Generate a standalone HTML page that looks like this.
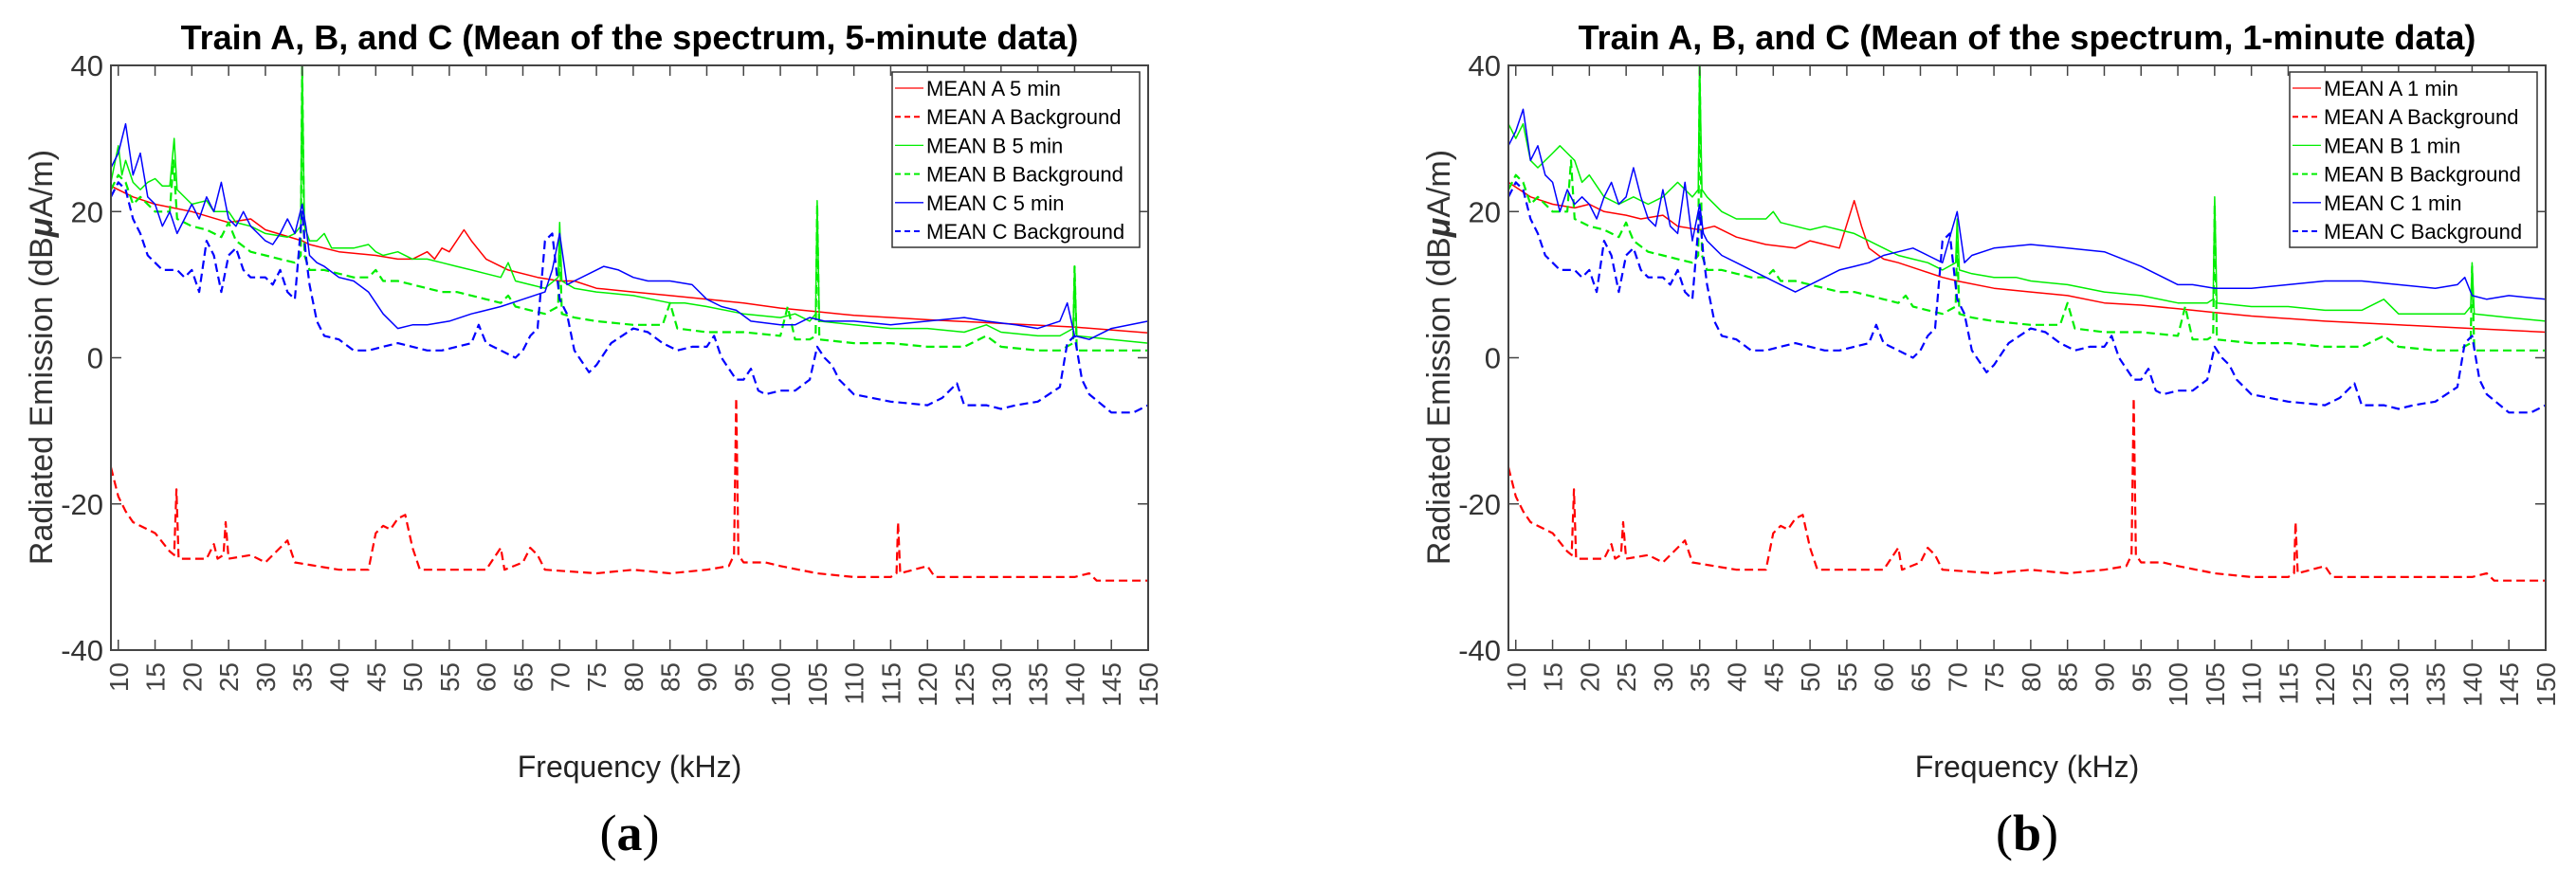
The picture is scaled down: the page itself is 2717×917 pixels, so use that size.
<!DOCTYPE html>
<html><head><meta charset="utf-8">
<style>
html,body{margin:0;padding:0;background:#fff;}
svg{display:block;font-family:"Liberation Sans",sans-serif;}
</style></head>
<body>
<svg id="chart" width="2717" height="917" viewBox="0 0 2717 917" xmlns="http://www.w3.org/2000/svg"></svg>
<script>
// ---- shared data ----
const xTicks = [10,15,20,25,30,35,40,45,50,55,60,65,70,75,80,85,90,95,100,105,110,115,120,125,130,135,140,145,150];
const yTicks = [40,20,0,-20,-40];

const aBgF = [9,10,11,12,13,15,17,17.6,17.9,18.2,20,22,23,23.5,24.3,24.6,25,28,30,33,34,40,44,45,46,47,48,49,50,51,60,62,62.5,65,66,67,68,75,80,85,90,93,93.7,94,94.3,95,98,100,105,110,115,115.8,116,116.3,120,121,130,140,142,143,150];
const aBgV = [-15,-19,-21,-22.5,-23,-24,-26.5,-27,-18,-27.5,-27.5,-27.5,-25.5,-27.5,-27,-22.5,-27.5,-27,-28,-25,-28,-29,-29,-24,-23,-23.5,-22,-21.5,-26,-29,-29,-26,-29,-28,-26,-27,-29,-29.5,-29,-29.5,-29,-28.5,-27,-5.5,-27,-28,-28,-28.5,-29.5,-30,-30,-29.5,-22.5,-29.5,-28.5,-30,-30,-30,-29.5,-30.5,-30.5];

const bBgF = [9,10,11,12,13,15,17,17.5,18,20,22,24,25,26,28,30,32,34,34.8,35,35.3,36,38,40,42,44,45,46,48,50,52,54,56,58,60,62,63,64,66,68,69.8,70,70.3,72,75,80,84,85,86,90,95,100,101,102,104,104.8,105,105.3,110,115,120,125,128,130,135,138,139.8,140,140.3,145,150];
const bBgV = [23,25,24,21,22,20,20,27,19,18,17.5,16.5,18.5,16,14.5,14,13.5,13,14,40,14,12,12,11.5,11,11,12,10.5,10.5,10,9.5,9,9,8.5,8,7.5,8.5,7,6.5,6,7,16,6,5.5,5,4.5,4.5,7.5,4,3.5,3.5,3,7,2.5,2.5,3,21,2.5,2,2,1.5,1.5,3,1.5,1,1,2,12.5,1,1,1];

const cBgF = [9,10,11,12,13,14,15,16,18,19,20,21,22,23,24,25,26,27,28,30,31,32,33,34,35,35.5,36,37,38,40,42,44,46,48,50,52,54,56,58,59,60,62,64,65,66,67,68,69,70,71,72,74,75,77,80,82,84,86,88,90,91,92,94,95,96,97,98,100,102,104,105,106,107,108,110,115,120,122,124,125,128,130,132,135,138,139,140,141,142,145,148,150];
const cBgV = [22,24,23,19,17,14,13,12,12,11,12,9,16,14,9,14,15,12,11,11,10,12,9,8,20,14,10,5,3,2.5,1,1,1.5,2,1.5,1,1,1.5,2,4.5,2,1,0,1,3,4,16,17,8,6,1,-2,-1,2,4,3.5,2,1,1.5,1.5,3,0,-3,-3,-1.5,-4.5,-5,-4.5,-4.5,-3,1.5,0,-1,-3,-5,-6,-6.5,-5.5,-3.5,-6.5,-6.5,-7,-6.5,-6,-4,2,3,-3,-5,-7.5,-7.5,-6.5];

// ---- panel (a): 5-minute ----
const a5F = [9,12,15,20,25,28,30,35,36,40,45,48,50,52,53,54,55,57,58,60,63,67,70,72,75,80,85,90,95,100,105,110,120,130,140,150];
const a5V = [23.5,22,21,20,18.5,19,17.5,16,15.5,14.5,14,13.5,13.5,14.5,13.5,15,14.5,17.5,16,13.5,12,11,10.5,10.5,9.5,9,8.5,8,7.5,6.8,6.3,5.8,5.2,4.7,4.2,3.4];
const b5F = [9,10,10.5,11,12,13,14,15,16,17,17.6,18,20,22,23,25,26,28,30,33,34,34.8,35,35.3,36,37,38,39,40,42,44,45,46,48,50,52,54,56,58,60,62,63,64,66,68,69.8,70,70.3,72,75,80,85,87,90,95,100,102,104,104.8,105,105.3,110,115,120,125,128,130,135,138,139.8,140,140.3,145,150];
const b5V = [24,29,25,27,24,23,24,24.5,23.5,23.5,30,23,21,21.5,20,20,18.5,18,17,16.5,17,18,40,18,16,16,17,15,15,15,15.5,14.5,14,14.5,13.5,13.5,13,12.5,12,11.5,11,13,10.5,10,9.5,11,18.5,10.5,9.5,9,8.5,7.5,7.5,7,6,5.5,6,5,6,21.5,5,4.5,4,4,3.5,4.5,3.5,3,3,4,12.5,3,2.5,2];
const c5F = [9,10,11,12,13,14,15,16,17,18,19,20,21,22,23,24,25,26,27,28,29,30,31,32,33,34,35,35.5,36,37,38,40,42,44,46,48,50,52,55,58,60,62,65,68,69,70,71,72,74,76,78,80,82,85,88,90,92,94,96,100,102,104,106,110,115,120,125,128,132,135,138,139,140,142,145,150];
const c5V = [26,28,32,25,28,22,21,18,20,17,19,21,19,22,20,24,19,18,20,18,17,16,15.5,17,19,17,21,18,14,13,12.5,11,10.5,9,6,4,4.5,4.5,5,6,6.5,7,8,9,12,17,10,10.5,11.5,12.5,12,11,10.5,10.5,10,8,7,6.5,5,4.5,4.5,5.5,5,5,4.5,5,5.5,5,4.5,4,5,7.5,3,2.5,4,5];

// ---- panel (b): 1-minute ----
const a1F = [9,12,15,18,20,22,25,27,30,32,35,37,40,42,44,48,50,52,54,56,57,58,60,62,65,68,70,75,80,85,90,95,100,105,110,120,130,140,150];
const a1V = [24,22,21,20.5,21,20,19.5,19,19.5,18,17.5,18,16.5,16,15.5,15,16,15.5,15,21.5,18,15,13.5,13,12,11,10.5,9.5,9,8.5,7.5,7.2,6.7,6.2,5.7,5,4.5,4,3.5];
const b1F = [9,10,11,12,13,15,16,17,18,19,20,22,24,26,28,30,32,34,34.8,35,35.3,36,38,40,42,44,45,46,48,50,52,54,56,58,60,62,64,66,68,69.8,70,70.3,72,75,78,80,85,90,95,100,104,104.8,105,105.3,110,115,120,125,128,130,135,139,139.8,140,140.3,145,150];
const b1V = [32,30,32,27,26,28,29,28,27,24,25,22,21,22,21,22,24,22,23,40,23,22,20,19,19,19,20,18.5,18,17.5,18,17.5,17,16,15,14,13.5,13,12,13,19,12,11.5,11,11,10.5,10,9,8.5,7.5,7.5,8,22,7.5,7,7,6.5,6.5,8,6,6,6,7,13,6,5.5,5];
const c1F = [9,10,11,12,13,14,15,16,17,18,19,20,21,22,23,24,25,26,27,28,29,30,31,32,33,34,35,35.5,36,37,38,40,42,44,46,48,50,52,54,56,58,60,62,64,66,68,70,71,72,75,80,85,90,95,100,102,105,110,115,120,125,130,135,138,139,140,142,145,150];
const c1V = [29,31,34,27,29,25,24,20,23,21,22,21,19,22,24,21,22,26,22,19,18,23,18,17,24,16,21,17,16,15,14,13,12,11,10,9,10,11,12,12.5,13,14,14.5,15,14,13,20,13,14,15,15.5,15,14.5,12.5,10,10,9.5,9.5,10,10.5,10.5,10,9.5,10,11,8.5,8,8.5,8];

const panels = [
  {ox:0, title:"Train A, B, and C (Mean of the spectrum, 5-minute data)", tag:"(a)", lab:"5 min",
   series:[[a5F,a5V],[aBgF,aBgV],[b5F,b5V],[bBgF,bBgV],[c5F,c5V],[cBgF,cBgV]]},
  {ox:1474, title:"Train A, B, and C (Mean of the spectrum, 1-minute data)", tag:"(b)", lab:"1 min",
   series:[[a1F,a1V],[aBgF,aBgV],[b1F,b1V],[bBgF,bBgV],[c1F,c1V],[cBgF,cBgV]]}
];
const styles = [
  {c:"#ff0000",d:false,n:"A"},{c:"#ff0000",d:true,n:"A"},
  {c:"#00ee00",d:false,n:"B"},{c:"#00ee00",d:true,n:"B"},
  {c:"#0000ff",d:false,n:"C"},{c:"#0000ff",d:true,n:"C"}
];

const NS = "http://www.w3.org/2000/svg";
const svg = document.getElementById("chart");
function mk(tag, attrs, parent){
  const e = document.createElementNS(NS, tag);
  for (const k in attrs) e.setAttribute(k, attrs[k]);
  (parent||svg).appendChild(e);
  return e;
}
const L=117, R=1211, T=69, B=686, XMIN=9, XMAX=150, YMIN=-40, YMAX=40;

panels.forEach((p, pi) => {
  const g = mk("g", {});
  
  
  const sx = f => p.ox + L + (f - XMIN) * (R - L) / (XMAX - XMIN);
  const sy = v => T + (YMAX - v) * (B - T) / (YMAX - YMIN);

  p.series.forEach((s, si) => {
    const st = styles[si];
    let d = "";
    s[0].forEach((f, i) => { d += (i ? "L" : "M") + sx(f).toFixed(1) + "," + sy(s[1][i]).toFixed(1); });
    const path = mk("path", {d:d, fill:"none", stroke:st.c, "stroke-width":st.d?2.2:1.5, "stroke-dasharray":st.d?"9,5":"none", "stroke-linejoin":"round"}, g);
    
    
  });

  const frame = mk("rect", {x:p.ox+L, y:T, width:R-L, height:B-T, fill:"none", stroke:"#444", "stroke-width":2}, g);
  
  

  xTicks.forEach(t => {
    const x = sx(t);
    mk("line", {x1:x, x2:x, y1:B, y2:B-11, stroke:"#444", "stroke-width":1.5}, g);
    mk("line", {x1:x, x2:x, y1:T, y2:T+11, stroke:"#444", "stroke-width":1.5}, g);
    const tx = mk("text", {x:0, y:0, transform:"translate(" + (x+10) + "," + (B+13) + ") rotate(-90)", "text-anchor":"end", "font-size":28, fill:"#444"}, g);
    tx.textContent = t;
    
    
  });
  yTicks.forEach(t => {
    const y = sy(t);
    mk("line", {x1:p.ox+L, x2:p.ox+L+11, y1:y, y2:y, stroke:"#444", "stroke-width":1.5}, g);
    mk("line", {x1:p.ox+R, x2:p.ox+R-11, y1:y, y2:y, stroke:"#444", "stroke-width":1.5}, g);
    const ty = mk("text", {x:p.ox+L-8, y:y+11, "text-anchor":"end", "font-size":31, fill:"#333"}, g);
    ty.textContent = t;
    
    
  });

  const tt = mk("text", {x:p.ox+664, y:52, "text-anchor":"middle", "font-size":36, "font-weight":"bold", fill:"#000"}, g);
  tt.textContent = p.title;
  
  

  const yl = mk("text", {x:0, y:0, transform:"translate(" + (p.ox+55) + ",377) rotate(-90)", "text-anchor":"middle", "font-size":34, fill:"#333"}, g);
  yl.innerHTML = 'Radiated Emission (dB<tspan font-weight="bold" font-style="italic">μ</tspan>A/m)';
  
  

  const xl = mk("text", {x:p.ox+664, y:820, "text-anchor":"middle", "font-size":32, fill:"#222"}, g);
  xl.textContent = "Frequency (kHz)";
  
  

  const tg = mk("text", {x:p.ox+664, y:897, "text-anchor":"middle", "font-size":54, "font-family":"Liberation Serif, serif", fill:"#000"}, g);
  tg.innerHTML = '(<tspan font-weight="bold">' + p.tag.slice(1,2) + '</tspan>)';
  
  

  const lg = mk("g", {}, g);
  
  
  mk("rect", {x:p.ox+941, y:76, width:261, height:185, fill:"#fff", stroke:"#333", "stroke-width":1.5}, lg);
  const labels = ["MEAN A "+p.lab,"MEAN A Background","MEAN B "+p.lab,"MEAN B Background","MEAN C "+p.lab,"MEAN C Background"];
  labels.forEach((lb, i) => {
    const y = 93 + i*30.2;
    const st = styles[i];
    const e = mk("g", {}, lg);
    
    
    mk("line", {x1:p.ox+944, x2:p.ox+974, y1:y, y2:y, stroke:st.c, "stroke-width":st.d?2:1.3, "stroke-dasharray":st.d?"6,4":"none"}, e);
    const t = mk("text", {x:p.ox+977, y:y+8, "font-size":22, fill:"#000"}, e);
    t.textContent = lb;
  });
});
</script>
</body></html>
